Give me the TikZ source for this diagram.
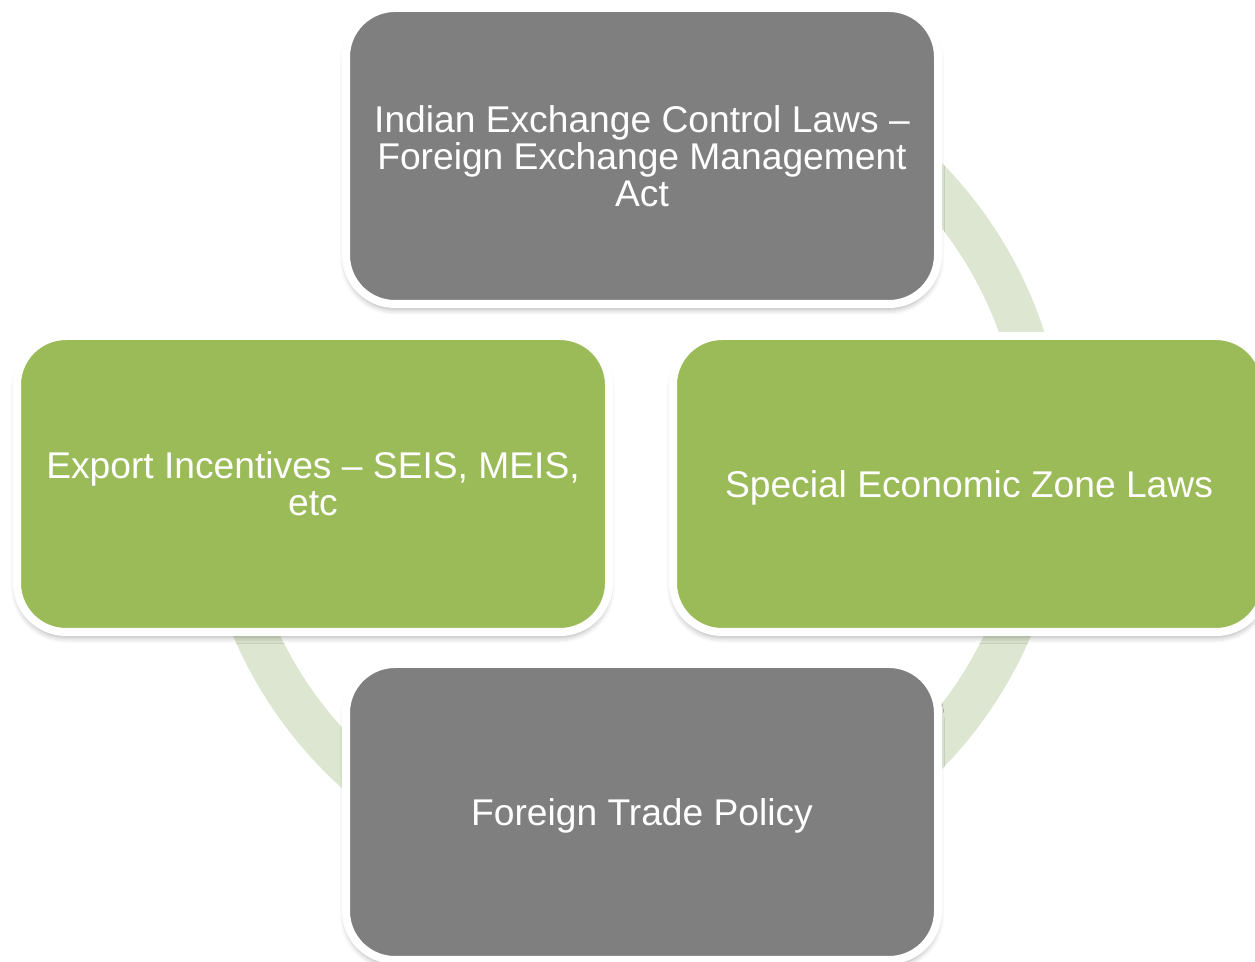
\documentclass[tikz,border=0pt]{standalone}
\usepackage{fontspec}
\setmainfont{Liberation Sans}
\usetikzlibrary{shadows.blur}
\definecolor{boxgray}{HTML}{7F7F7F}
\definecolor{boxgreen}{HTML}{9BBB59}
\definecolor{ringgreen}{HTML}{DCE6D0}
\begin{document}
\begin{tikzpicture}[x=0.5pt,y=-0.5pt,
  card/.style={rectangle, rounded corners=24.5pt, draw=white, line width=4pt,
    minimum width=296pt, minimum height=148pt, text=white, align=center,
    font=\fontsize{18.6}{18.5}\selectfont, inner sep=0pt,
    blur shadow={shadow xshift=0pt, shadow yshift=-2.5pt, shadow blur radius=3pt, shadow opacity=35}},
  graycard/.style={card, fill=boxgray},
  greencard/.style={card, fill=boxgreen},
  ring/.style={draw=ringgreen, line width=21.5pt}]
\useasboundingbox (0,0) rectangle (1255,962);
\clip (0,0) rectangle (1255,962);
\coordinate (c) at (632,466);
\draw[ring] (c) ++(-206pt,0pt) arc[start angle=180, end angle=450, radius=206pt];
\node[graycard] (top) at (642,156) {Indian Exchange Control Laws –\\Foreign Exchange Management\\Act};
\node[greencard] (left) at (313,484) {Export Incentives – SEIS, MEIS,\\etc};
\node[greencard, text depth=0pt] (right) at (969,484) {Special Economic Zone Laws};
\node[graycard, text depth=0pt] (bottom) at (642,812) {Foreign Trade Policy};
\end{tikzpicture}
\end{document}
